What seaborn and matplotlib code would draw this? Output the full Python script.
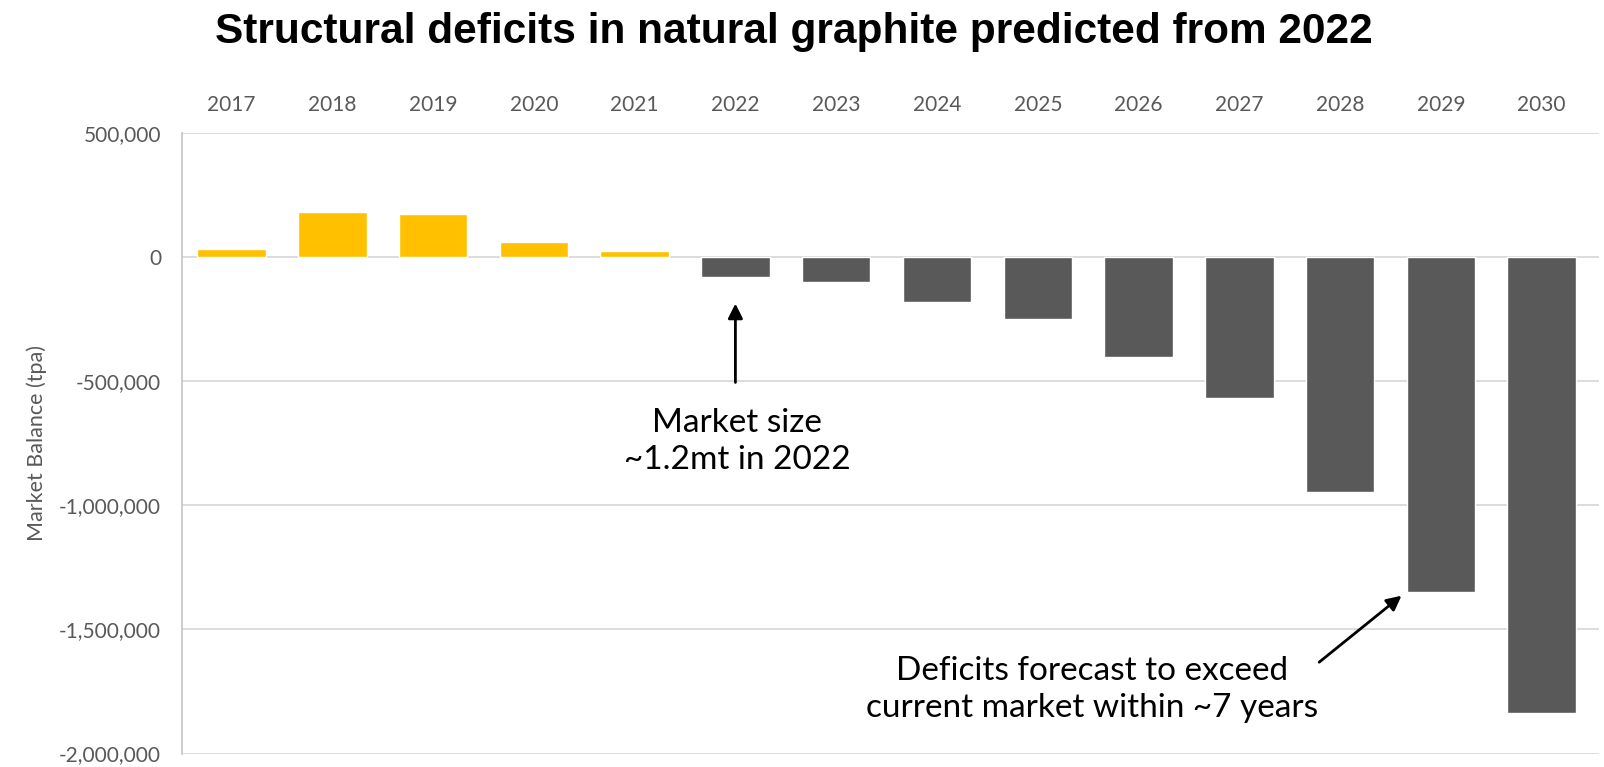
import matplotlib
matplotlib.use("Agg")
import matplotlib.pyplot as plt
import seaborn as sns
import pandas as pd

# Market balance of natural graphite, tonnes per annum
years = ["2017", "2018", "2019", "2020", "2021", "2022", "2023",
         "2024", "2025", "2026", "2027", "2028", "2029", "2030"]
balance = [33000, 183000, 174000, 59000, 24000, -81000, -101000,
           -182000, -250000, -403000, -568000, -946000, -1351000, -1838000]
phase = ["Surplus"] * 5 + ["Deficit"] * 9
y_ticks = [500000, 0, -500000, -1000000, -1500000, -2000000]

sns.set_theme(style="white")
plt.rcParams["font.family"] = ["Lato", "DejaVu Sans"]

df = pd.DataFrame({"year": years, "balance": balance, "phase": phase})

fig = plt.figure(figsize=(16.04, 7.67), dpi=100)
ax = fig.add_axes([0.1135, 0.0175, 0.8835, 0.8091])

sns.barplot(data=df, x="year", y="balance", hue="phase",
            palette={"Surplus": "#FFC000", "Deficit": "#595959"},
            dodge=False, width=0.68, legend=False, ax=ax, saturation=1)

ax.set_ylim(-2000000, 500000)
ax.set_xlim(-0.49, 13.57)
ax.set_yticks(y_ticks)
ax.set_yticklabels([f"{v:,}" for v in y_ticks])
ax.yaxis.grid(True, color="#d9d9d9", linewidth=1.3)
ax.set_axisbelow(True)
ax.xaxis.tick_top()
ax.tick_params(axis="x", length=0, pad=13, labelsize=15, labelcolor="#595959")
ax.tick_params(axis="y", length=0, pad=15, labelsize=15, labelcolor="#595959")
ax.set_xlabel("")
ax.set_ylabel("Market Balance (tpa)", fontsize=15.5, color="#595959", labelpad=9)

for side in ["top", "right", "bottom"]:
    ax.spines[side].set_visible(False)
ax.spines["left"].set_color("#c8c8c8")
ax.spines["left"].set_linewidth(1.3)

fig.suptitle("Structural deficits in natural graphite predicted from 2022",
             fontsize=30.5, fontweight="bold", family="Liberation Sans",
             color="black", x=0.495, y=0.985, va="top")

arrow = dict(arrowstyle="-|>", color="black", lw=2, mutation_scale=22)
ax.annotate("", xy=(5.0, -176000), xytext=(5.0, -516000), arrowprops=arrow)
ax.text(5.02, -742000, "Market size\n~1.2mt in 2022", ha="center", va="center",
        fontsize=24, color="black", linespacing=1.3)

ax.annotate("", xy=(11.63, -1357000), xytext=(10.77, -1639000), arrowprops=arrow)
ax.text(8.54, -1742000, "Deficits forecast to exceed\ncurrent market within ~7 years",
        ha="center", va="center", fontsize=24, color="black", linespacing=1.3)

fig.savefig("out.png", dpi=100)
